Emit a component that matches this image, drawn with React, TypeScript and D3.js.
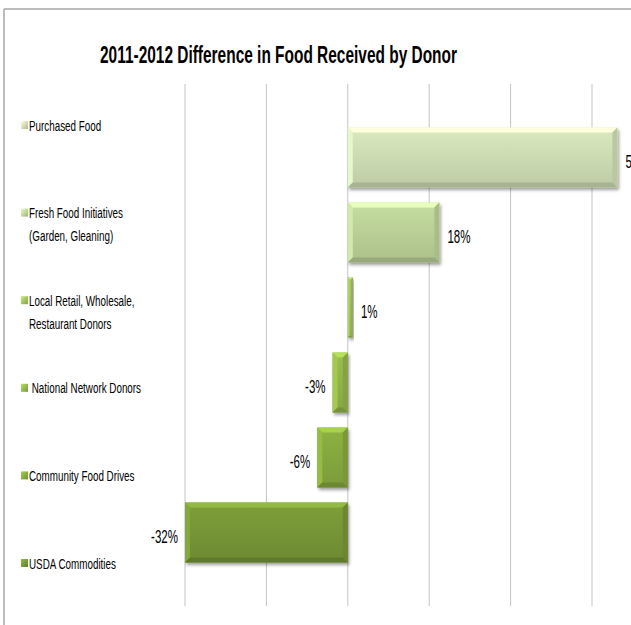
import React from 'react';
import * as d3 from 'd3';

const categories = [
  'Purchased Food',
  'Fresh Food Initiatives (Garden, Gleaning)',
  'Local Retail, Wholesale, Restaurant Donors',
  'National Network Donors',
  'Community Food Drives',
  'USDA Commodities',
];
const labelLines = [
  ['Purchased Food'],
  ['Fresh Food Initiatives', '(Garden, Gleaning)'],
  ['Local Retail, Wholesale,', 'Restaurant Donors'],
  [' National Network Donors'],
  ['Community Food Drives'],
  ['USDA Commodities'],
];
const values = [53, 18, 1, -3, -6, -32];
const valueLabels = ['53%', '18%', '1%', '-3%', '-6%', '-32%'];
const gridTicks = [-32, -16, 0, 16, 32, 48];
const barColors = ['#cfdeb4', '#bcd298', '#9fbf5c', '#93b54a', '#87a93f', '#779737'];
const title = '2011-2012 Difference in Food Received by Donor';

const W = 631;
const H = 625;
const FONT = "'Liberation Sans', Arial, sans-serif";
const SX_LABEL = 0.635;
const SX_VALUE = 0.64;

export default function App() {
  const x = d3.scaleLinear().domain([-32, 48]).range([185, 592]);
  const y = d3.scaleBand<string>().domain(categories).range([120, 570]).paddingInner(0.2).paddingOuter(0.1);
  const ly = d3.scalePoint<string>().domain(categories).range([125, 563]);
  const bw = y.bandwidth();

  return (
    <svg width={W} height={H} style={{ position: 'absolute', left: 0, top: 0, background: '#fff' }}>
      <defs>
        <filter id="shadow" x="-10%" y="-20%" width="130%" height="150%">
          <feDropShadow dx="1.5" dy="2.5" stdDeviation="1.6" floodColor="#000" floodOpacity="0.38" />
        </filter>
        {barColors.map((c, i) => {
          const base = d3.color(c)!;
          return (
            <linearGradient key={i} id={`g${i}`} x1="0" y1="0" x2="0" y2="1">
              <stop offset="0%" stopColor={base.brighter(0.15).formatHex()} />
              <stop offset="100%" stopColor={base.darker(0.25).formatHex()} />
            </linearGradient>
          );
        })}
        {barColors.map((c, i) => {
          const base = d3.color(c)!;
          return (
            <linearGradient key={'m' + i} id={`m${i}`} x1="0" y1="0" x2="1" y2="1">
              <stop offset="0%" stopColor={base.brighter(0.6).formatHex()} />
              <stop offset="100%" stopColor={base.darker(0.5).formatHex()} />
            </linearGradient>
          );
        })}
      </defs>
      <rect x={0} y={0} width={W} height={H} fill="#fff" />
      <line x1={4} y1={9} x2={W} y2={9} stroke="#a6a6a6" strokeWidth={1.5} />
      <line x1={4} y1={9} x2={4} y2={H} stroke="#a6a6a6" strokeWidth={1.5} />

      <text
        x={100}
        y={63}
        fontFamily={FONT}
        fontWeight="bold"
        fontSize={23}
        fill="#000"
        textLength={357}
        lengthAdjust="spacingAndGlyphs"
      >
        {title}
      </text>

      {gridTicks.map((t) => (
        <line key={t} x1={x(t)} x2={x(t)} y1={84} y2={606} stroke="#c3c3c3" strokeWidth={1} />
      ))}

      {categories.map((c, i) => {
        const v = values[i];
        const x0 = Math.min(x(0), x(v));
        const x1 = Math.max(x(0), x(v));
        const w = x1 - x0;
        const y0 = y(c)!;
        const b = Math.min(5, w / 3);
        const base = d3.color(barColors[i])!;
        const light = base.brighter(0.6).formatHex();
        const lightSide = base.brighter(0.3).formatHex();
        const dark = base.darker(0.6).formatHex();
        const darkSide = base.darker(0.3).formatHex();
        return (
          <g key={c}>
            <rect x={x0} y={y0} width={w} height={bw} fill={`url(#g${i})`} filter="url(#shadow)" />
            <polygon points={`${x0},${y0} ${x1},${y0} ${x1 - b},${y0 + b} ${x0 + b},${y0 + b}`} fill={light} />
            <polygon points={`${x0},${y0} ${x0 + b},${y0 + b} ${x0 + b},${y0 + bw - b} ${x0},${y0 + bw}`} fill={lightSide} />
            <polygon points={`${x1},${y0} ${x1},${y0 + bw} ${x1 - b},${y0 + bw - b} ${x1 - b},${y0 + b}`} fill={darkSide} />
            <polygon points={`${x0},${y0 + bw} ${x1},${y0 + bw} ${x1 - b},${y0 + bw - b} ${x0 + b},${y0 + bw - b}`} fill={dark} />
            <text
              transform={`translate(${v >= 0 ? x1 + 8 : x0 - 7},${y0 + bw / 2 + 10}) scale(${SX_VALUE},1)`}
              textAnchor={v >= 0 ? 'start' : 'end'}
              fontFamily={FONT}
              fontSize={18}
              fill="#000"
            >
              {valueLabels[i]}
            </text>
          </g>
        );
      })}

      {categories.map((c, i) => {
        const yy = ly(c)!;
        return (
          <g key={'l' + c}>
            <rect x={21} y={yy - 4} width={7} height={8} fill={`url(#m${i})`} />
            {labelLines[i].map((t, j) => (
              <text
                key={j}
                transform={`translate(29,${yy + 5.5 + j * 23}) scale(${SX_LABEL},1)`}
                fontFamily={FONT}
                fontSize={15.5}
                fill="#000"
                style={{ whiteSpace: 'pre' }}
              >
                {t}
              </text>
            ))}
          </g>
        );
      })}
    </svg>
  );
}
